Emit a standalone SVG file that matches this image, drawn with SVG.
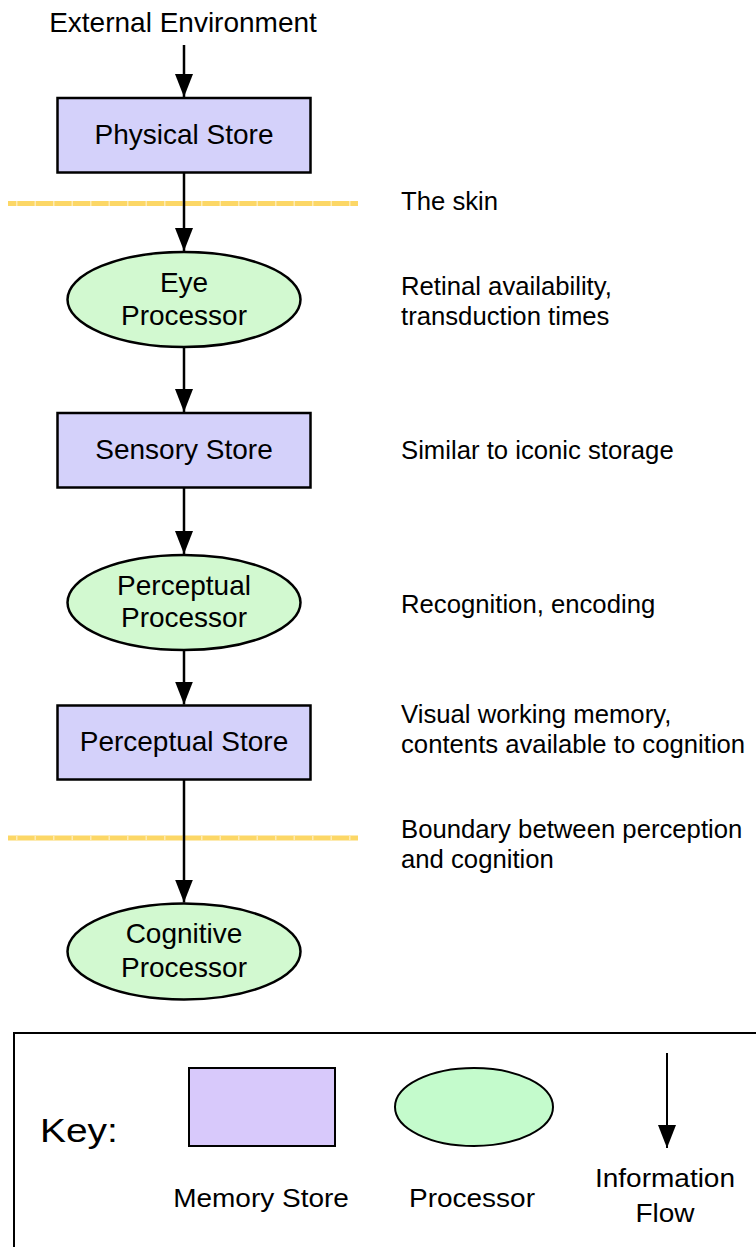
<svg xmlns="http://www.w3.org/2000/svg" width="756" height="1247" viewBox="0 0 756 1247">
  <style>
    text { font-family: "Liberation Sans", Arial, Helvetica, sans-serif; fill: #000; }
    .node { font-size: 28px; text-anchor: middle; }
    .note { font-size: 25.7px; }
    .store { fill: #d4d1fa; stroke: #000; stroke-width: 2.5; }
    .proc { fill: #d2f9d0; stroke: #000; stroke-width: 2.5; }
    .flow { stroke: #000; stroke-width: 2.5; fill: none; marker-end: url(#arrow); }
    .skin { stroke: #fcd766; stroke-width: 5; }
    .skinmark { stroke: #fdebb4; stroke-width: 5; stroke-dasharray: 1.5 17; }
    .keytxt { font-size: 25px; text-anchor: middle; }
  </style>
  <defs>
    <marker id="arrow" viewBox="0 0 23 18" refX="23" refY="9" markerWidth="23" markerHeight="18" markerUnits="userSpaceOnUse" orient="auto">
      <path d="M0,0 L23,9 L0,18 z" fill="#000"/>
    </marker>
  </defs>

  <g id="boundaries">
    <line class="skin" x1="8" y1="203.5" x2="358" y2="203.5"/>
    <line class="skinmark" x1="16" y1="203.5" x2="358" y2="203.5"/>
    <line class="skin" x1="8" y1="838" x2="358" y2="838"/>
    <line class="skinmark" x1="16" y1="838" x2="358" y2="838"/>
  </g>

  <g id="external-environment">
    <text class="node" x="183" y="32">External Environment</text>
  </g>

  <g id="physical-store">
    <rect class="store" x="57.5" y="98" width="253" height="74.5"/>
    <text class="node" x="184" y="144">Physical Store</text>
  </g>

  <g id="eye-processor">
    <ellipse class="proc" cx="184" cy="299.5" rx="116.5" ry="47.5"/>
    <text class="node" x="184" y="292">Eye</text>
    <text class="node" x="184" y="325">Processor</text>
  </g>

  <g id="sensory-store">
    <rect class="store" x="57.5" y="413" width="253" height="74.5"/>
    <text class="node" x="184" y="459">Sensory Store</text>
  </g>

  <g id="perceptual-processor">
    <ellipse class="proc" cx="184" cy="602.5" rx="116.5" ry="47.5"/>
    <text class="node" x="184" y="595">Perceptual</text>
    <text class="node" x="184" y="627">Processor</text>
  </g>

  <g id="perceptual-store">
    <rect class="store" x="57.5" y="705.5" width="253" height="74"/>
    <text class="node" x="184" y="750.5">Perceptual Store</text>
  </g>

  <g id="cognitive-processor">
    <ellipse class="proc" cx="184" cy="951.5" rx="116.5" ry="48"/>
    <text class="node" x="184" y="943">Cognitive</text>
    <text class="node" x="184" y="977">Processor</text>
  </g>

  <g id="connectors">
    <line class="flow" x1="184" y1="45" x2="184" y2="97"/>
    <line class="flow" x1="184" y1="173" x2="184" y2="251"/>
    <line class="flow" x1="184" y1="347" x2="184" y2="412"/>
    <line class="flow" x1="184" y1="488" x2="184" y2="554"/>
    <line class="flow" x1="184" y1="650" x2="184" y2="704.5"/>
    <line class="flow" x1="184" y1="780" x2="184" y2="902.5"/>
  </g>

  <g id="annotations">
    <text class="note" x="401" y="210">The skin</text>
    <text class="note" x="401" y="295">Retinal availability,</text>
    <text class="note" x="401" y="325">transduction times</text>
    <text class="note" x="401" y="459">Similar to iconic storage</text>
    <text class="note" x="401" y="613">Recognition, encoding</text>
    <text class="note" x="401" y="723">Visual working memory,</text>
    <text class="note" x="401" y="753">contents available to cognition</text>
    <text class="note" x="401" y="838">Boundary between perception</text>
    <text class="note" x="401" y="868">and cognition</text>
  </g>

  <g id="key">
    <rect x="14" y="1033" width="800" height="300" fill="#fff" stroke="#000" stroke-width="2"/>
    <text transform="translate(40,1142) scale(1.18,1)" font-size="33">Key:</text>
    <rect x="189" y="1068" width="146" height="78" fill="#d8c9fb" stroke="#000" stroke-width="2"/>
    <ellipse cx="474" cy="1107" rx="79" ry="39" fill="#c4fbcc" stroke="#000" stroke-width="2"/>
    <line x1="667" y1="1053" x2="667" y2="1148" stroke="#000" stroke-width="2" marker-end="url(#arrow)"/>
    <text class="keytxt" transform="translate(261,1207) scale(1.12,1)">Memory Store</text>
    <text class="keytxt" transform="translate(472,1207) scale(1.12,1)">Processor</text>
    <text class="keytxt" transform="translate(665,1187) scale(1.12,1)">Information</text>
    <text class="keytxt" transform="translate(665,1222) scale(1.12,1)">Flow</text>
  </g>
</svg>
